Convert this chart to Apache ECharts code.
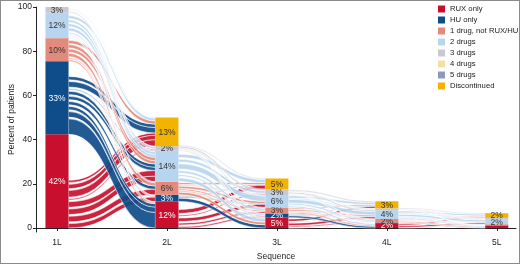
<!DOCTYPE html>
<html><head><meta charset="utf-8">
<script src="https://cdn.jsdelivr.net/npm/echarts@6/dist/echarts.min.js"></script>
<style>html,body{margin:0;padding:0;background:#fff}#c{width:520px;height:264px;box-sizing:border-box;border:1px solid #8a8a8a}</style>
</head><body><div id="c"></div>
<script>
const stages = ['1L', '2L', '3L', '4L', '5L'];
const categories = ['RUX only', 'HU only', '1 drug, not RUX/HU', '2 drugs', '3 drugs', '4 drugs', '5 drugs', 'Discontinued'];
const colors = ['#c8102e', '#0f4c8a', '#e38a7c', '#b8d5ef', '#c8c8d2', '#f4e0a2', '#8f98bd', '#f2b400'];
const labelColors = ['#ffffff', '#ffffff', '#333333', '#333333', '#333333', '#333333', '#333333', '#333333'];
const yTicks = [0, 20, 40, 60, 80, 100];

// stratum sizes (percent of patients) per stage 1L..5L
const ruxOnly      = [42.4, 12, 4.7, 2.2, 1.2];
const huOnly       = [33.1, 3, 1.9, 0.3, 0];
const oneDrug      = [10.4, 6, 2.7, 1.6, 0.5];
const twoDrugs     = [11.6, 14, 5.6, 4.0, 2.3];
const threeDrugs   = [2.5, 2, 2.7, 0.8, 0.6];
const fourDrugs    = [0, 0, 0, 0, 0];
const fiveDrugs    = [0, 0, 0, 0, 0];
const discontinued = [0, 13, 4.8, 3.2, 2.1];

// flows: [from stage index, from category index, to category index, percent]
const flows12 = [
  [0,0,1,2.0],[0,0,2,2.5],[0,0,3,2.5],[0,0,3,2.5],[0,0,4,0.5],[0,0,7,3.0],[0,0,7,2.0],[0,0,7,1.0],
  [0,1,0,7.0],[0,1,0,2.5],[0,1,0,1.5],[0,1,2,1.5],[0,1,3,1.5],[0,1,3,1.5],[0,1,4,0.3],[0,1,7,2.5],[0,1,7,1.5],
  [0,2,0,0.6],[0,2,1,0.5],[0,2,2,1.5],[0,2,3,1.5],[0,2,3,1.5],[0,2,7,1.5],
  [0,3,0,0.3],[0,3,1,0.3],[0,3,2,0.5],[0,3,3,1.3],[0,3,3,1.2],[0,3,4,1.0],[0,3,7,1.2],
  [0,4,3,0.5],[0,4,4,0.2],[0,4,7,0.3]
];
const flows23 = [
  [1,0,1,0.6],[1,0,2,0.8],[1,0,3,1.5],[1,0,4,0.5],[1,0,7,1.8],
  [1,1,0,1.5],[1,1,3,0.3],[1,1,7,0.3],
  [1,2,0,1.2],[1,2,1,0.4],[1,2,2,0.6],[1,2,3,1.0],[1,2,4,0.3],[1,2,7,0.8],
  [1,3,0,1.6],[1,3,1,0.7],[1,3,2,1.0],[1,3,3,2.4],[1,3,4,1.2],[1,3,7,1.5],
  [1,4,0,0.4],[1,4,1,0.2],[1,4,2,0.3],[1,4,3,0.4],[1,4,4,0.7],[1,4,7,0.4]
];
const flows34 = [
  [2,0,1,0.1],[2,0,2,0.4],[2,0,3,1.0],[2,0,4,0.2],[2,0,7,1.0],
  [2,1,0,0.8],[2,1,3,0.2],[2,1,7,0.2],
  [2,2,0,0.5],[2,2,2,0.3],[2,2,3,0.6],[2,2,7,0.5],
  [2,3,0,0.7],[2,3,1,0.2],[2,3,2,0.7],[2,3,3,1.6],[2,3,4,0.4],[2,3,7,1.0],
  [2,4,0,0.2],[2,4,2,0.2],[2,4,3,0.6],[2,4,4,0.2],[2,4,7,0.5]
];
const flows45 = [
  [3,0,2,0.2],[3,0,3,0.7],[3,0,7,0.6],
  [3,1,0,0.2],
  [3,2,0,0.4],[3,2,3,0.4],[3,2,7,0.3],
  [3,3,0,0.5],[3,3,2,0.3],[3,3,3,0.9],[3,3,4,0.4],[3,3,7,0.8],
  [3,4,0,0.1],[3,4,3,0.3],[3,4,4,0.2],[3,4,7,0.4]
];

const sizes = [ruxOnly, huOnly, oneDrug, twoDrugs, threeDrugs, fourDrugs, fiveDrugs, discontinued];
const allFlows = flows12.concat(flows23, flows34, flows45);

// stratum bases per stage
const base = stages.map((_, s) => {
  let acc = 0; return sizes.map(arr => { const b = acc; acc += arr[s]; return b; });
});

// compute flow positions
const flowItems = categories.map(() => []);
for (let s = 0; s < stages.length - 1; s++) {
  const fl = allFlows.filter(f => f[0] === s);
  const srcPos = new Map();
  for (let c = 0; c < categories.length; c++) {
    const out = fl.filter(f => f[1] === c).sort((a, b) => a[2] - b[2]);
    if (!out.length) continue;
    const tot = out.reduce((a, f) => a + f[3], 0);
    const gap = Math.min(0.8, (sizes[c][s] - tot) / (out.length + 1));
    let y = base[s][c];
    out.forEach(f => { srcPos.set(f, [y, y + f[3]]); y += f[3] + Math.max(gap, 0); });
  }
  const tgtPos = new Map();
  for (let c = 0; c < categories.length; c++) {
    const inc = fl.filter(f => f[2] === c).sort((a, b) => a[1] - b[1]);
    let y = base[s + 1][c];
    inc.forEach(f => { tgtPos.set(f, [y, y + f[3]]); y += f[3]; });
  }
  fl.forEach(f => {
    const a = srcPos.get(f), b = tgtPos.get(f);
    flowItems[f[1]].push([s + 1, a[0], a[1], s + 2, b[0], b[1]]);
  });
}

const barItems = categories.map((_, c) => stages.map((_, s) => [s + 1, base[s][c], base[s][c] + sizes[c][s], sizes[c][s]]).filter(d => d[3] > 0));

const FONT = 'Liberation Sans';
const halfBar = api => api.size([1, 0])[0] * 0.105;

function renderFlow(params, api) {
  const hw = halfBar(api);
  const s = api.value(0), t = api.value(3);
  const pa0 = api.coord([s, api.value(1)]), pa1 = api.coord([s, api.value(2)]);
  const pb0 = api.coord([t, api.value(4)]), pb1 = api.coord([t, api.value(5)]);
  const x0 = pa0[0] + hw, x1 = pb0[0] - hw, xm = (x0 + x1) / 2;
  const d = `M${x0},${pa1[1]} C${xm},${pa1[1]} ${xm},${pb1[1]} ${x1},${pb1[1]} L${x1},${pb0[1]} C${xm},${pb0[1]} ${xm},${pa0[1]} ${x0},${pa0[1]} Z`;
  return { type: 'path', shape: { pathData: d }, style: { fill: colors[params.seriesIndex], stroke: '#ffffff', lineWidth: 0.6, opacity: 0.92 } };
}

function renderBar(params, api) {
  const c = params.seriesIndex - categories.length;
  const hw = halfBar(api);
  const x = api.value(0), v = api.value(3);
  const p0 = api.coord([x, api.value(1)]), p1 = api.coord([x, api.value(2)]);
  const children = [{ type: 'rect', shape: { x: p0[0] - hw, y: p1[1], width: hw * 2, height: p0[1] - p1[1] }, style: { fill: colors[c] } }];
  if (v >= 1.5) {
    children.push({ type: 'text', x: p0[0], y: (p0[1] + p1[1]) / 2 + 0.5, style: { text: Math.round(v) + '%', fill: labelColors[c], fontSize: 8.5, fontFamily: FONT, align: 'center', verticalAlign: 'middle' } });
  }
  return { type: 'group', children };
}

const series = [];
categories.forEach((name, c) => series.push({
  type: 'custom', name, renderItem: renderFlow, data: flowItems[c], z: 1,
  itemStyle: { color: colors[c] }, encode: { x: [0, 3], y: [1, 2, 4, 5] }, silent: true
}));
categories.forEach((name, c) => series.push({
  type: 'custom', name, renderItem: renderBar, data: barItems[c], z: 3,
  itemStyle: { color: colors[c] }, encode: { x: 0, y: [1, 2] }, silent: true
}));

const chart = echarts.init(document.getElementById('c'), null, { renderer: 'canvas' });
chart.setOption({
  animation: false,
  color: colors,
  grid: { left: 35, right: 3, top: 6, bottom: 31, containLabel: false, outerBoundsMode: 'none' },
  legend: {
    data: categories, orient: 'vertical', left: 437, top: 4, padding: 0, itemWidth: 7, itemHeight: 7, itemGap: 3,
    icon: 'rect', textStyle: { fontSize: 7.7, lineHeight: 8, fontFamily: FONT, color: '#222' }
  },
  xAxis: {
    type: 'value', min: 0.809, max: 5.175,
    name: 'Sequence', nameLocation: 'middle', nameGap: 20, nameMoveOverlap: false,
    nameTextStyle: { fontSize: 8.5, fontFamily: FONT, color: '#222' },
    axisLine: { show: true, lineStyle: { color: '#222', width: 1 } },
    axisTick: { show: true, length: 3, customValues: [1, 2, 3, 4, 5], lineStyle: { color: '#222' } },
    axisLabel: { customValues: [1, 2, 3, 4, 5], formatter: v => stages[Math.round(v) - 1], fontSize: 8.5, fontFamily: FONT, color: '#222', margin: 6 },
    splitLine: { show: false }
  },
  yAxis: {
    type: 'value', min: -1.8, max: 100,
    name: 'Percent of patients', nameLocation: 'middle', nameGap: 20, nameMoveOverlap: false,
    nameTextStyle: { fontSize: 8.5, fontFamily: FONT, color: '#222' },
    axisLine: { show: true, lineStyle: { color: '#222', width: 1 } },
    axisTick: { show: true, length: 3, customValues: yTicks, lineStyle: { color: '#222' } },
    axisLabel: { customValues: yTicks, fontSize: 8.5, fontFamily: FONT, color: '#222', margin: 4 },
    splitLine: { show: false }
  },
  series
});
</script></body></html>
